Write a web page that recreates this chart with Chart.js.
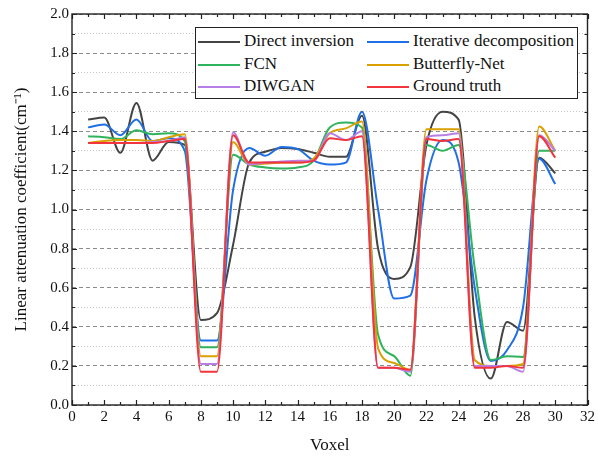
<!DOCTYPE html>
<html>
<head>
<meta charset="utf-8">
<script src="https://cdn.jsdelivr.net/npm/chart.js@4/dist/chart.umd.min.js"></script>
<style>
  body { margin: 0; background: #fff; }
  #wrap { position: relative; width: 598px; height: 456px; }
  #legend {
    position: absolute; left: 195px; top: 27px; width: 381px; height: 70px;
    border: 1px solid #222; background: #fff;
    font-family: "Liberation Serif", "Times New Roman", serif; font-size: 17px; color: #111;
  }
  .item { position: absolute; height: 22px; line-height: 22px; white-space: nowrap; }
  .item span.ln { position: absolute; top: 11px; width: 42px; height: 2px; }
  .item span.tx { position: absolute; left: 46px; top: 0; }
</style>
</head>
<body>
<div id="wrap">
  <canvas id="chart" width="598" height="456"></canvas>
  <div id="legend"></div>
</div>
<script>
// data
const voxels = [1,2,3,4,5,6,7,8,9,10,11,12,13,14,15,16,17,18,19,20,21,22,23,24,25,26,27,28,29,30];

const directInversion = [1.46,1.47,1.29,1.545,1.25,1.345,1.33,0.435,0.47,0.82,1.24,1.295,1.315,1.31,1.29,1.27,1.27,1.48,0.80,0.645,0.705,1.33,1.50,1.46,0.45,0.135,0.425,0.38,1.265,1.185];
const iterativeDecomp = [1.42,1.435,1.38,1.46,1.35,1.365,1.30,0.33,0.33,1.10,1.315,1.275,1.32,1.31,1.25,1.23,1.24,1.50,1.0,0.545,0.56,1.15,1.355,1.24,0.6,0.225,0.28,0.5,1.26,1.13];
const fcn = [1.375,1.37,1.36,1.405,1.385,1.39,1.35,0.295,0.295,1.28,1.23,1.215,1.21,1.215,1.25,1.42,1.445,1.42,0.36,0.25,0.15,1.33,1.30,1.33,0.70,0.23,0.25,0.245,1.30,1.30];
const butterflyNet = [1.34,1.35,1.355,1.355,1.35,1.37,1.385,0.25,0.25,1.345,1.23,1.235,1.24,1.24,1.26,1.39,1.415,1.45,0.29,0.215,0.18,1.41,1.41,1.41,0.23,0.2,0.2,0.21,1.425,1.30];
const diwgan = [1.34,1.34,1.34,1.34,1.345,1.35,1.37,0.21,0.21,1.395,1.23,1.24,1.245,1.25,1.25,1.39,1.355,1.40,0.19,0.19,0.17,1.37,1.38,1.39,0.2,0.2,0.2,0.17,1.38,1.30];
const groundTruth = [1.34,1.34,1.34,1.34,1.34,1.35,1.36,0.17,0.17,1.38,1.24,1.24,1.24,1.24,1.25,1.365,1.355,1.375,0.19,0.19,0.18,1.36,1.35,1.36,0.19,0.19,0.2,0.19,1.375,1.265];

const seriesNames = ["Direct inversion", "Iterative decomposition", "FCN", "Butterfly-Net", "DIWGAN", "Ground truth"];
const seriesValues = [directInversion, iterativeDecomp, fcn, butterflyNet, diwgan, groundTruth];
const seriesColors = ["#444444", "#1f6fe6", "#2fb35c", "#d9a000", "#b77fe6", "#f2353d"];

const serif = "'Liberation Serif', 'Times New Roman', serif";

function makeDatasets() {
  return seriesNames.map((name, i) => ({
    label: name,
    data: voxels.map((v, j) => ({ x: v, y: seriesValues[i][j] })),
    borderColor: seriesColors[i],
    backgroundColor: seriesColors[i],
    borderWidth: 2,
    pointRadius: 0,
    cubicInterpolationMode: "monotone",
    order: seriesNames.length - i   // ground truth on top
  }));
}

// box round the plot with inward ticks on all four sides
const framePlugin = {
  id: "frame",
  afterDraw(chart) {
    const ctx = chart.ctx;
    const a = chart.chartArea;
    const xs = chart.scales.x, ys = chart.scales.y;
    ctx.save();
    ctx.strokeStyle = "#222";
    ctx.lineWidth = 1.4;
    ctx.strokeRect(a.left, a.top, a.right - a.left, a.bottom - a.top);
    ctx.lineWidth = 1.2;
    ctx.beginPath();
    for (let v = xs.min; v <= xs.max; v += 1) {
      const px = Math.round(xs.getPixelForValue(v)) + 0.5;
      const len = v % 2 === 0 ? 5 : 3;
      ctx.moveTo(px, a.bottom); ctx.lineTo(px, a.bottom - len);
      ctx.moveTo(px, a.top); ctx.lineTo(px, a.top + len);
    }
    for (let k = 0; k <= 20; k++) {
      const py = Math.round(ys.getPixelForValue(k / 10)) + 0.5;
      const len = k % 2 === 0 ? 5 : 3;
      ctx.moveTo(a.left, py); ctx.lineTo(a.left + len, py);
      ctx.moveTo(a.right, py); ctx.lineTo(a.right - len, py);
    }
    ctx.stroke();
    ctx.restore();
  }
};

function isMajor(value) {
  return Math.round(value * 10) % 2 === 0;
}

const chart = new Chart(document.getElementById("chart").getContext("2d"), {
  type: "line",
  data: { datasets: makeDatasets() },
  options: {
    responsive: false,
    animation: false,
    layout: { padding: { top: 14, right: 9, left: 0, bottom: 0 } },
    plugins: { legend: { display: false }, tooltip: { enabled: false } },
    scales: {
      x: {
        type: "linear",
        min: 0, max: 32,
        grid: { display: false, drawTicks: false },
        border: { display: false },
        ticks: {
          stepSize: 1, padding: 3, color: "#111", autoSkip: false, maxRotation: 0,
          font: { family: serif, size: 15 },
          callback: (v) => (v % 2 === 0 ? String(v) : "")
        },
        title: {
          display: true, text: "Voxel", color: "#111",
          font: { family: serif, size: 17 },
          padding: { top: 6, bottom: 0 }
        },
        afterFit: (s) => { s.height = 51; }
      },
      y: {
        min: 0, max: 2,
        grid: {
          drawTicks: false,
          color: (c) => (c.tick && isMajor(c.tick.value) ? "#8c8c8c" : "#c8c8c8"),
          lineWidth: 1
        },
        border: {
          display: false,
          dash: (c) => (c.tick ? (isMajor(c.tick.value) ? [4, 3] : [1, 2]) : [])
        },
        ticks: {
          stepSize: 0.1, padding: 3, color: "#111", autoSkip: false,
          font: { family: serif, size: 15 },
          callback: (v) => (isMajor(v) ? Number(v).toFixed(1) : "")
        },
        title: {
          display: true, text: "Linear attenuation coefficient(cm\u207B\u00B9)", color: "#111",
          font: { family: serif, size: 17 },
          padding: { top: 11, bottom: 0 }
        },
        afterFit: (s) => { s.width = 72; }
      }
    }
  },
  plugins: [framePlugin]
});

// legend, two columns in a box
const legend = document.getElementById("legend");
seriesNames.forEach((name, i) => {
  const row = Math.floor(i / 2), col = i % 2;
  const item = document.createElement("div");
  item.className = "item";
  item.style.left = (col === 0 ? 2 : 171) + "px";
  item.style.top = (2 + row * 22.5) + "px";
  item.innerHTML = '<span class="ln" style="background:' + seriesColors[i] + '"></span><span class="tx">' + name + '</span>';
  legend.appendChild(item);
});
</script>
</body>
</html>
